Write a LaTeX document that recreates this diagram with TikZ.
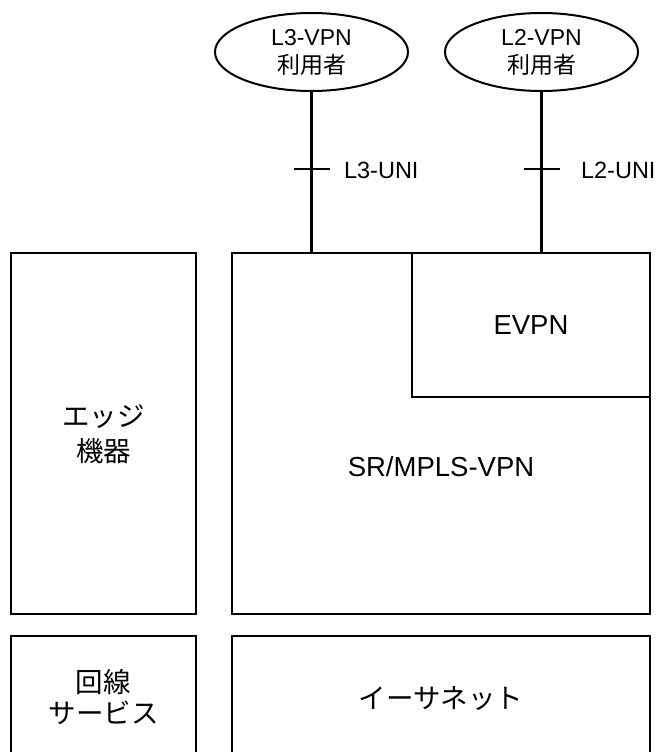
\documentclass[tikz,border=0pt]{standalone}
\usepackage{fontspec}
\setmainfont{Liberation Sans}
\newfontfamily\cjk{Noto Sans CJK JP}
\usetikzlibrary{shapes.geometric}
\begin{document}
\begin{tikzpicture}[x=1pt,y=-1pt,line width=2.2pt,
  boxnode/.style={draw,rectangle,inner sep=0pt,outer sep=0pt,anchor=north west},
  usernode/.style={draw,ellipse,inner sep=0pt,outer sep=0pt,minimum width=193,minimum height=78,
    align=center,font=\fontsize{23}{28}\selectfont,line width=2pt},
  biglbl/.style={inner sep=0pt,align=center,font=\fontsize{27.5}{35}\selectfont},
  smalllbl/.style={inner sep=0pt,anchor=west,font=\fontsize{23.5}{28}\selectfont}]
\useasboundingbox (0,0) rectangle (661,752);
% boxes
\node[boxnode,minimum width=185,minimum height=361.3] (edge) at (11,252.7) {};
\node[boxnode,minimum width=418,minimum height=361.3] (mpls) at (232,252.7) {};
\node[boxnode,minimum width=238,minimum height=144.6] (evpn) at (412,252.7) {};
\node[boxnode,minimum width=185,minimum height=130] (circuit) at (11,635.7) {};
\node[boxnode,minimum width=418,minimum height=130] (ether) at (232,635.7) {};
% labels
\node[biglbl] (edgelbl) at (103.5,434) {{\cjk エッジ}\\{\cjk 機器}};
\node[biglbl] (mplslbl) at (441,467) {SR/MPLS-VPN};
\node[biglbl] (evpnlbl) at (531,325) {EVPN};
\node[biglbl,font=\fontsize{27.5}{31}\selectfont] (circuitlbl) at (103.5,697) {{\cjk 回線}\\{\cjk サービス}};
\node[biglbl] (etherlbl) at (441,699) {\cjk イーサネット};
% users
\node[usernode] (l3user) at (311.5,52) {L3-VPN\\{\cjk 利用者}};
\node[usernode] (l2user) at (541.5,52) {L2-VPN\\{\cjk 利用者}};
% connectors
\draw (l3user) -- (l3user |- mpls.north);
\draw (l2user) -- (l2user |- mpls.north);
% UNI ticks
\coordinate (l3tick) at (311.5,169);
\coordinate (l2tick) at (541.5,169);
\draw[line width=1.6pt] ([xshift=-18pt]l3tick) -- ([xshift=18pt]l3tick);
\draw[line width=1.6pt] ([xshift=-18pt]l2tick) -- ([xshift=18pt]l2tick);
\node[smalllbl] (l3uni) at (343,170) {L3-UNI};
\node[smalllbl] (l2uni) at (580,170) {L2-UNI};
\end{tikzpicture}
\end{document}
